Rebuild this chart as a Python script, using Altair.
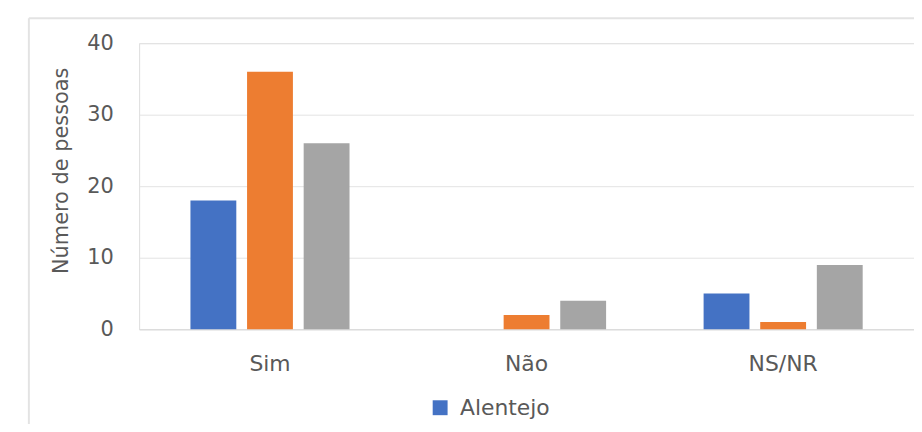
import altair as alt
import pandas as pd

categories = ["Sim", "Não", "NS/NR"]
series = ["Alentejo", "Série 2", "Série 3"]
alentejo = [18, 0, 5]
serie2 = [36, 2, 1]
serie3 = [26, 4, 9]
colors = ["#4472C4", "#ED7D31", "#A5A5A5"]

rows = []
for vals, s in zip([alentejo, serie2, serie3], series):
    for c, v in zip(categories, vals):
        rows.append({"Categoria": c, "Série": s, "Valor": v})
df = pd.DataFrame(rows)

FONT = "DejaVu Sans"
TXT = "#595959"

bars = alt.Chart(df).mark_bar().encode(
    x=alt.X("Categoria:N", sort=categories,
            scale=alt.Scale(paddingInner=0.38, paddingOuter=0.2),
            axis=alt.Axis(title=None, labelAngle=0, labelFontSize=22, labelColor=TXT,
                          labelFont=FONT, labelPadding=25, ticks=False,
                          domainColor="#D9D9D9", domainWidth=1)),
    xOffset=alt.XOffset("Série:N", sort=series, scale=alt.Scale(paddingInner=0.19)),
    y=alt.Y("Valor:Q", scale=alt.Scale(domain=[0, 40]),
            axis=alt.Axis(values=[0, 10, 20, 30, 40], title="Número de pessoas",
                          titleFontSize=21, titleFont=FONT, titleFontWeight="normal",
                          titleColor=TXT, titleX=-78, titleY=128,
                          titleAlign="center", titleBaseline="middle", titleAngle=270,
                          labelFontSize=21, labelFont=FONT, labelColor=TXT,
                          labelPadding=26, ticks=False, domain=False,
                          gridColor="#E3E3E3", gridWidth=1)),
    color=alt.Color("Série:N", sort=series,
                    scale=alt.Scale(domain=series, range=colors),
                    legend=alt.Legend(values=["Alentejo"], title=None, orient="none",
                                      legendX=292, legendY=356, symbolType="square",
                                      symbolSize=225, symbolStrokeWidth=0,
                                      labelFontSize=22, labelFont=FONT,
                                      labelColor=TXT, labelOffset=9)),
)

border = alt.Chart(pd.DataFrame({"a": [0]})).mark_rule(color="#E3E3E3", strokeWidth=2).encode(
    x=alt.value(-111), y=alt.value(-25), y2=alt.value(420)
)
border_top = alt.Chart(pd.DataFrame({"a": [0]})).mark_rule(color="#E3E3E3", strokeWidth=2).encode(
    x=alt.value(-111), x2=alt.value(800), y=alt.value(-25)
)

chart = alt.layer(border, border_top, bars).properties(
    width=780, height=288,
    autosize=alt.AutoSizeParams(type="none"),
    padding={"left": 132, "top": 34, "right": 0, "bottom": 94},
).configure_view(stroke=None).configure(background="white")

chart.save("out.html", embed_options={"renderer": "svg", "actions": False})
